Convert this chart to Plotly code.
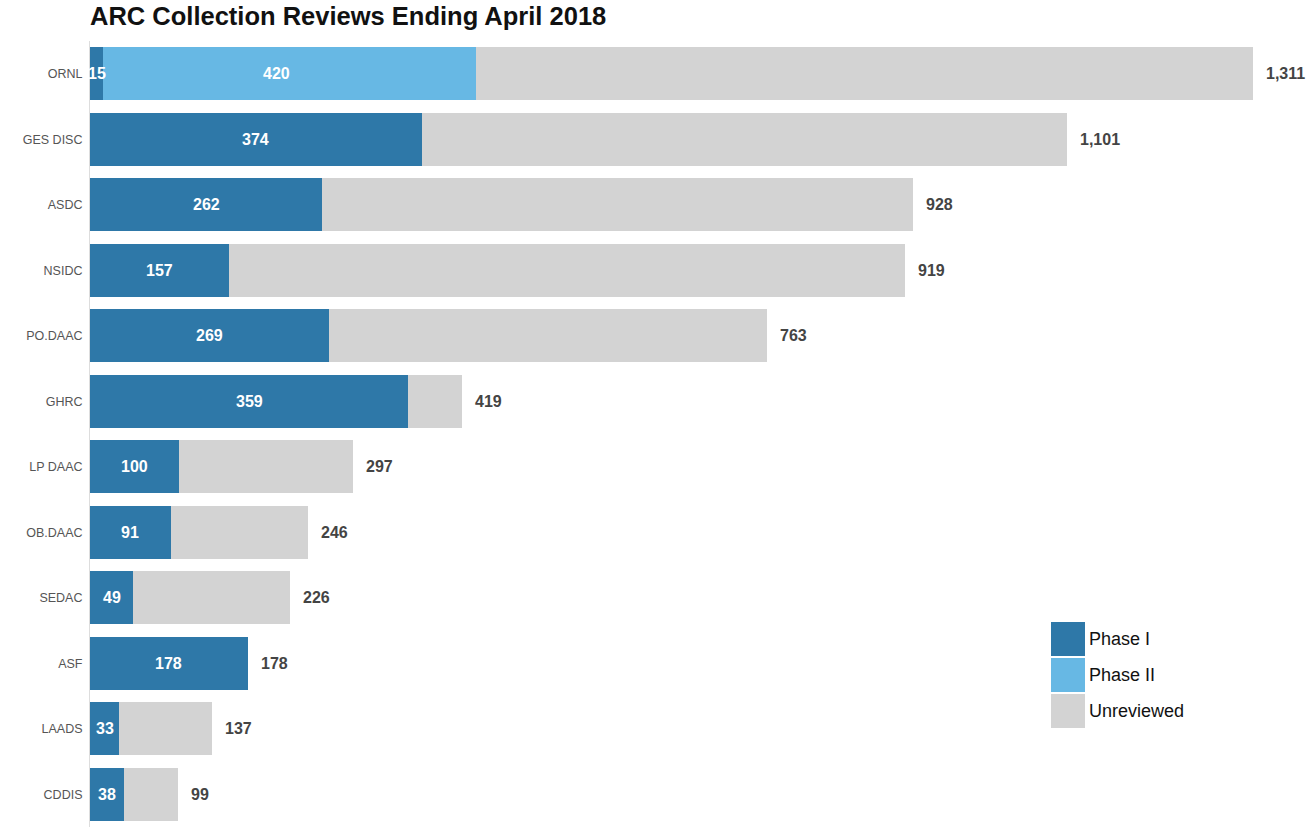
import plotly.graph_objects as go

categories = ["ORNL", "GES DISC", "ASDC", "NSIDC", "PO.DAAC", "GHRC",
              "LP DAAC", "OB.DAAC", "SEDAC", "ASF", "LAADS", "CDDIS"]
phase1 = [15, 374, 262, 157, 269, 359, 100, 91, 49, 178, 33, 38]
phase2 = [420, 0, 0, 0, 0, 0, 0, 0, 0, 0, 0, 0]
totals = [1311, 1101, 928, 919, 763, 419, 297, 246, 226, 178, 137, 99]
unreviewed = [t - a - b for t, a, b in zip(totals, phase1, phase2)]

C1, C2, C3 = "#2E78A8", "#67B8E4", "#D3D3D3"
FONT = "Liberation Sans, Arial, sans-serif"

fig = go.Figure()
fig.add_trace(go.Bar(y=categories, x=phase1, orientation="h", name="Phase I",
                     marker=dict(color=C1, line=dict(width=0))))
fig.add_trace(go.Bar(y=categories, x=phase2, orientation="h", name="Phase II",
                     marker=dict(color=C2, line=dict(width=0))))
fig.add_trace(go.Bar(y=categories, x=unreviewed, orientation="h", name="Unreviewed",
                     marker=dict(color=C3, line=dict(width=0))))

annotations = []
for c, p1, p2, t in zip(categories, phase1, phase2, totals):
    annotations.append(dict(x=p1 / 2, y=c, text=f"<b>{p1}</b>", showarrow=False,
                            xanchor="center", yanchor="middle",
                            font=dict(family=FONT, size=16, color="white")))
    if p2:
        annotations.append(dict(x=p2 / 2, y=c, text=f"<b>{p2}</b>", showarrow=False,
                                xanchor="center", yanchor="middle",
                                font=dict(family=FONT, size=16, color="white")))
    annotations.append(dict(x=t, y=c, text=f"<b>{t:,}</b>", showarrow=False,
                            xanchor="left", yanchor="middle", xshift=11,
                            font=dict(family=FONT, size=16, color="#444444")))

# custom legend
legend_items = [("Phase I", C1), ("Phase II", C2), ("Unreviewed", C3)]
shapes = []
top = 622
for i, (name, col) in enumerate(legend_items):
    y0 = top + i * 36
    shapes.append(dict(type="rect", xref="paper", yref="paper",
                       x0=(1051 - 90) / 1224, x1=(1085 - 90) / 1224,
                       y0=1 - (y0 + 34 - 41) / 786, y1=1 - (y0 - 41) / 786,
                       fillcolor=col, line=dict(width=0)))
    annotations.append(dict(xref="paper", yref="paper",
                            x=(1087 - 90) / 1224, y=1 - (y0 + 17 - 41) / 786,
                            text=name, showarrow=False, xanchor="left", yanchor="middle",
                            font=dict(family=FONT, size=18, color="#111111")))

fig.update_layout(
    barmode="stack",
    bargap=0.19,
    width=1314, height=828,
    margin=dict(l=90, r=0, t=41, b=1),
    plot_bgcolor="white", paper_bgcolor="white",
    showlegend=False,
    title=dict(text="<b>ARC Collection Reviews Ending April 2018</b>",
               x=90 / 1314, xanchor="left", xref="container",
               y=1 - 7 / 828, yanchor="top", yref="container",
               font=dict(family=FONT, size=25.5, color="#111111")),
    xaxis=dict(range=[0, 1380], showgrid=False, zeroline=False, showticklabels=False,
               showline=False, fixedrange=True),
    yaxis=dict(categoryorder="array", categoryarray=categories, autorange="reversed",
               showgrid=False, zeroline=False, showline=True, linecolor="#dddddd",
               linewidth=1, ticks="", ticklabelstandoff=4,
               tickfont=dict(family=FONT, size=12.5, color="#555555")),
    annotations=annotations,
    shapes=shapes,
)

fig.write_html("out.html")
